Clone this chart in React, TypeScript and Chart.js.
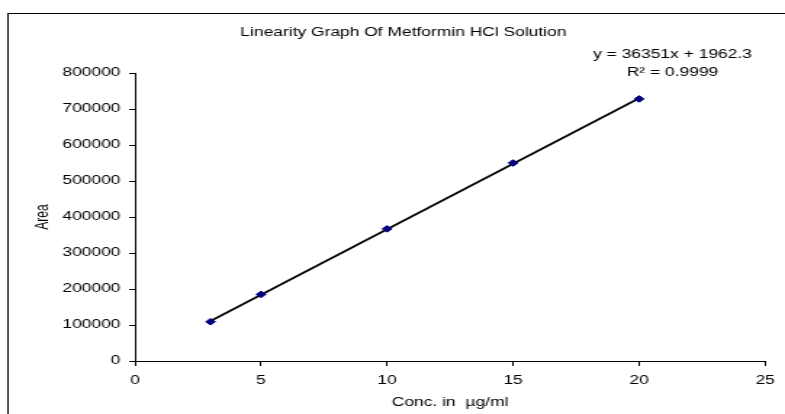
import React, { useEffect, useRef } from "react";
import { Chart, registerables } from "chart.js";

Chart.register(...registerables);

// ---- data ----
const concentrations = [3, 5, 10, 15, 20];
const areas = [109000, 185000, 367000, 550000, 728000];
const chartTitle = "Linearity Graph Of Metformin HCl Solution";
const xAxisTitle = "Conc. in  µg/ml";
const yAxisTitle = "Area";
const equationLines = ["y = 36351x + 1962.3", "R² = 0.9999"];
const xTicks = { min: 0, max: 25, step: 5 };
const yTicks = { min: 0, max: 800000, step: 100000 };

// ---- layout ----
const W = 785;
const H = 414;
const STRETCH = 1.45; // reference is horizontally stretched
const IW = Math.round(W / STRETCH);
const FONT_FAMILY = '"Liberation Sans", Arial, Helvetica, sans-serif';

function linearFit(xs: number[], ys: number[]) {
  const n = xs.length;
  const mx = xs.reduce((a, b) => a + b, 0) / n;
  const my = ys.reduce((a, b) => a + b, 0) / n;
  let sxy = 0;
  let sxx = 0;
  for (let i = 0; i < n; i++) {
    sxy += (xs[i] - mx) * (ys[i] - my);
    sxx += (xs[i] - mx) * (xs[i] - mx);
  }
  const slope = sxy / sxx;
  return { slope, intercept: my - slope * mx };
}

export default function App() {
  const ref = useRef<HTMLCanvasElement | null>(null);

  useEffect(() => {
    const canvas = ref.current;
    if (!canvas) return;
    const fit = linearFit(concentrations, areas);
    const xFirst = concentrations[0];
    const xLast = concentrations[concentrations.length - 1];
    const trend = [
      { x: xFirst, y: fit.slope * xFirst + fit.intercept },
      { x: xLast, y: fit.slope * xLast + fit.intercept },
    ];
    const points = concentrations.map((x, i) => ({ x, y: areas[i] }));

    const decor = {
      id: "decor",
      beforeDraw(chart: any) {
        const ctx = chart.ctx;
        ctx.save();
        ctx.fillStyle = "#ffffff";
        ctx.fillRect(0, 0, chart.width, chart.height);
        ctx.strokeStyle = "#000000";
        ctx.lineWidth = 1;
        const frameLeft = 5.5;
        const frameWidth = 545;
        ctx.strokeRect(frameLeft, 13.5, frameWidth, 500);
        ctx.fillStyle = "#000000";
        ctx.font = `12px ${FONT_FAMILY}`;
        ctx.textAlign = "center";
        ctx.textBaseline = "middle";
        ctx.fillText(chartTitle, frameLeft + frameWidth / 2, 33);
        ctx.restore();
      },
      afterDraw(chart: any) {
        const ctx = chart.ctx;
        const xs = chart.scales.x;
        const cx = xs.getPixelForValue(xLast) + 23;
        ctx.save();
        ctx.fillStyle = "#000000";
        ctx.font = `12px ${FONT_FAMILY}`;
        ctx.textAlign = "center";
        ctx.textBaseline = "middle";
        equationLines.forEach((t, i) => ctx.fillText(t, cx, 55 + i * 18));
        ctx.restore();
      },
    };

    const chart = new Chart(canvas, {
      type: "scatter",
      data: {
        datasets: [
          {
            label: "Linear (Area)",
            data: points,
            showLine: false,
            pointStyle: "rectRot",
            pointRadius: 3.3,
            pointBackgroundColor: "#000080",
            pointBorderColor: "#000080",
            borderWidth: 1,
            order: 1,
          },
          {
            label: "Trend",
            data: trend,
            showLine: true,
            borderColor: "#000000",
            borderWidth: 1.7,
            pointRadius: 0,
            fill: false,
            order: 2,
          },
        ],
      },
      plugins: [decor],
      options: {
        responsive: false,
        animation: false,
        devicePixelRatio: 1,
        layout: { padding: { top: 73, right: 10, left: 0, bottom: 0 } },
        plugins: {
          legend: { display: false },
          title: { display: false },
          tooltip: { enabled: false },
        },
        scales: {
          x: {
            type: "linear",
            min: xTicks.min,
            max: xTicks.max,
            afterFit: (s: any) => {
              s.height = 53;
            },
            ticks: {
              stepSize: xTicks.step,
              color: "#000000",
              padding: 7,
              font: { family: FONT_FAMILY, size: 12 },
              maxRotation: 0,
            },
            grid: {
              drawOnChartArea: false,
              drawTicks: true,
              tickLength: 5,
              tickColor: "#000000",
              color: "#000000",
            },
            border: { display: true, color: "#000000", width: 1 },
            title: {
              display: true,
              text: xAxisTitle,
              color: "#000000",
              font: { family: FONT_FAMILY, size: 12 },
              padding: { top: 0, bottom: 4 },
            },
          },
          y: {
            type: "linear",
            min: yTicks.min,
            max: yTicks.max,
            afterFit: (s: any) => {
              s.width = 93;
            },
            ticks: {
              stepSize: yTicks.step,
              color: "#000000",
              padding: 6,
              font: { family: FONT_FAMILY, size: 12 },
              callback: (v: any) => String(v),
            },
            grid: {
              drawOnChartArea: false,
              drawTicks: true,
              tickLength: 4,
              tickColor: "#000000",
              color: "#000000",
            },
            border: { display: true, color: "#000000", width: 1 },
            title: {
              display: true,
              text: yAxisTitle,
              color: "#000000",
              font: { family: FONT_FAMILY, size: 12 },
              padding: { top: 22, bottom: 0 },
            },
          },
        },
      },
    } as any);

    return () => chart.destroy();
  }, []);

  return (
    <canvas
      ref={ref}
      width={IW}
      height={H}
      style={{
        position: "fixed",
        left: 0,
        top: 0,
        width: `${W}px`,
        height: `${H}px`,
        display: "block",
      }}
    />
  );
}
